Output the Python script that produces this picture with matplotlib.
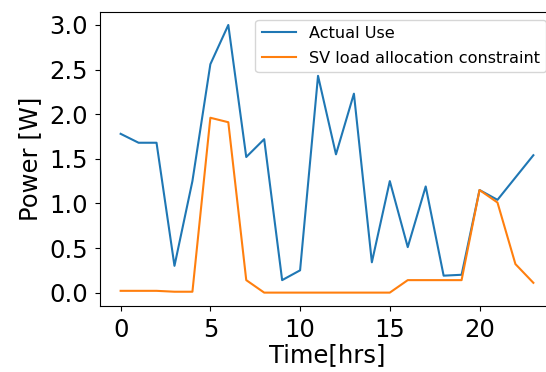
import matplotlib
matplotlib.use("Agg")
import matplotlib.pyplot as plt

hours = list(range(24))
actual_use = [1.78, 1.68, 1.68, 0.30, 1.25, 2.56, 3.00, 1.52, 1.72, 0.14,
              0.25, 2.43, 1.55, 2.23, 0.34, 1.25, 0.51, 1.19, 0.19, 0.20,
              1.15, 1.04, 1.29, 1.54]
sv_constraint = [0.02, 0.02, 0.02, 0.01, 0.01, 1.96, 1.91, 0.14, 0.00, 0.00,
                 0.00, 0.00, 0.00, 0.00, 0.00, 0.00, 0.14, 0.14, 0.14, 0.14,
                 1.15, 1.01, 0.32, 0.11]
labels = ["Actual Use", "SV load allocation constraint"]

fig = plt.figure(figsize=(5.46, 3.72), dpi=100)
ax = fig.add_axes([100/546, (372-306)/372, 454/546, 294.4/372])
ax.plot(hours, actual_use, color="#1f77b4", lw=1.5, label=labels[0])
ax.plot(hours, sv_constraint, color="#ff7f0e", lw=1.5, label=labels[1])
ax.set_xlim(-1.15, 24.15)
ax.set_ylim(-0.15, 3.15)
ax.set_xticks([0, 5, 10, 15, 20])
ax.set_yticks([0.0, 0.5, 1.0, 1.5, 2.0, 2.5, 3.0])
ax.tick_params(labelsize=17.5, pad=5)
ax.set_xlabel("Time[hrs]", fontsize=17.5, labelpad=1)
ax.set_ylabel("Power [W]", fontsize=17.5, labelpad=5)
ax.legend(loc="upper right", fontsize=11.6, handlelength=2.1,
          borderpad=0.4, labelspacing=0.6)
fig.savefig("out.png", dpi=100)
